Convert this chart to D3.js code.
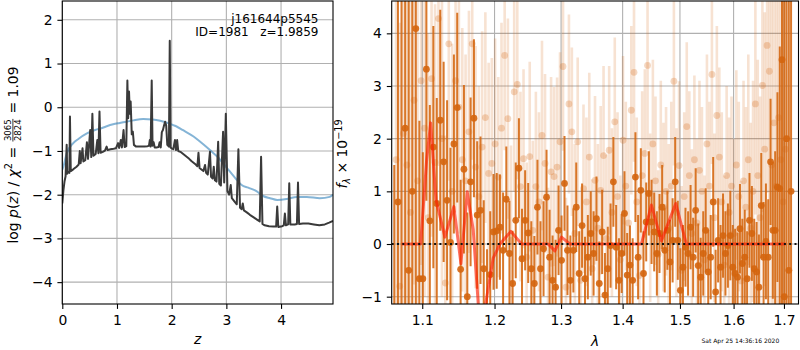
<!DOCTYPE html>
<html>
<head>
<meta charset="utf-8">
<script src="https://cdn.jsdelivr.net/npm/d3@7"></script>
<style>
  body { margin: 0; background: #fff; }
  svg { display: block; font-family: "DejaVu Sans", sans-serif; }
  text { fill: #000; }
</style>
</head>
<body>
<svg id="fig" width="800" height="350"></svg>
<script>
// ---------------- redshift fit: log p(z) ----------------
const pzZ = [
  0.00,0.02,0.04,0.06,0.08,0.09,0.11,0.13,0.14,0.155,
  0.20,0.26,0.30,0.32,0.335,0.37,0.385,0.42,0.45,0.47,
  0.51,0.53,0.55,0.57,0.61,0.64,0.66,0.68,0.70,0.74,
  0.78,0.81,0.83,0.88,0.94,0.98,1.02,1.04,1.07,1.09,
  1.12,1.14,1.17,1.19,1.205,1.22,1.235,1.25,1.27,1.29,
  1.31,1.35,1.42,1.50,1.56,1.585,1.60,1.615,1.635,1.65,
  1.67,1.69,1.72,1.76,1.78,1.80,1.82,1.84,1.86,1.88,
  1.90,1.92,1.95,1.965,1.98,2.00,2.03,2.06,2.08,2.10,
  2.12,2.16,2.20,2.24,2.28,2.32,2.36,2.40,2.44,2.47,
  2.49,2.51,2.55,2.58,2.61,2.63,2.66,2.70,2.72,2.75,
  2.77,2.79,2.82,2.85,2.87,2.90,2.94,2.96,2.99,3.02,
  3.05,3.08,3.10,3.15,3.19,3.22,3.25,3.28,3.30,3.32,
  3.38,3.43,3.50,3.56,3.61,3.635,3.66,3.70,3.78,3.86,
  3.91,3.93,3.95,4.02,4.05,4.07,4.09,4.13,4.15,4.17,
  4.25,4.29,4.31,4.33,4.40,4.50,4.60,4.70,4.80,4.88,
  4.95
];
const pzLog = [
  -2.20,-1.90,-1.70,-1.58,-0.86,-1.52,-1.48,-1.50,-0.21,-1.46,
  -1.42,-1.36,-1.31,-1.00,-1.28,-0.94,-1.24,-1.21,-0.80,-1.18,
  -0.52,-1.14,-0.15,-1.11,-1.07,-0.75,-1.05,-0.10,-1.04,-1.02,
  -0.99,-0.90,-0.98,-0.96,-0.95,-0.94,-0.82,-0.93,-0.75,-0.92,
  -0.52,-0.91,-0.89,0.61,-0.25,0.36,-0.15,0.13,-0.62,-0.56,
  -0.86,-0.90,-0.90,-0.90,-0.89,-0.88,-0.75,-0.90,0.61,-0.88,
  -0.80,-0.92,-0.92,-0.91,-0.80,-0.92,-0.57,-0.52,-0.42,-0.33,
  -0.42,-0.86,-0.90,1.52,-0.92,-0.94,-0.96,-0.75,-0.98,-0.75,
  -1.00,-1.02,-1.06,-1.10,-1.14,-1.18,-1.23,-1.27,-1.31,-1.35,
  -1.04,-1.39,-1.43,-1.46,-1.32,-1.50,-1.54,-1.02,-1.59,-1.63,
  -1.36,-1.67,-1.70,-0.79,-1.75,-1.79,-0.56,-1.72,-0.15,-1.92,
  -2.00,-1.78,-2.08,-2.16,-2.22,-0.96,-2.30,-2.33,-2.20,-2.36,
  -2.41,-2.46,-2.52,-2.57,-2.61,-1.13,-2.67,-2.70,-2.72,-2.73,
  -2.73,-2.27,-2.74,-2.72,-2.70,-2.43,-2.70,-2.68,-1.74,-2.68,
  -2.68,-2.67,-1.72,-2.67,-2.66,-2.66,-2.68,-2.70,-2.68,-2.64,
  -2.60
];
const priorZ = [0,0.02,0.08,0.2,0.3,0.45,0.6,0.69,0.8,0.93,1.05,1.18,1.3,1.48,1.65,1.79,1.9,2.03,2.09,2.2,
  2.4,2.55,2.7,2.85,2.94,3.05,3.19,3.28,3.4,3.55,3.67,3.8,3.93,4.1,4.29,4.47,4.71,4.89,4.95];
const priorLog = [-1.43,-1.36,-1.06,-0.82,-0.72,-0.60,-0.52,-0.49,-0.44,-0.39,-0.36,-0.33,-0.30,-0.27,-0.28,-0.31,-0.35,-0.41,-0.44,-0.52,
  -0.67,-0.82,-0.98,-1.15,-1.28,-1.45,-1.66,-1.78,-1.84,-1.92,-2.03,-2.08,-2.12,-2.10,-2.05,-2.05,-2.08,-2.05,-2.00];
const zTicks = [0, 1, 2, 3, 4];
const logpTicks = [-4, -3, -2, -1, 0, 1, 2];

// ---------------- 1D spectrum: G141 ----------------
const waveA = [
  1.0636,1.0683,1.0729,1.0776,1.0822,1.0869,1.0915,1.0962,1.1008,1.1055,
  1.1101,1.1148,1.1194,1.1241,1.1287,1.1334,1.1380,1.1427,1.1473,1.1520,
  1.1566,1.1613,1.1659,1.1706,1.1752,1.1799,1.1845,1.1892,1.1938,1.1985,
  1.2031,1.2078,1.2124,1.2171,1.2217,1.2264,1.2310,1.2357,1.2403,1.2450,
  1.2496,1.2543,1.2589,1.2636,1.2682,1.2729,1.2775,1.2822,1.2868,1.2915,
  1.2961,1.3008,1.3054,1.3101,1.3147,1.3194,1.3240,1.3287,1.3333,1.3380,
  1.3426,1.3473,1.3519,1.3566,1.3612,1.3659,1.3705,1.3752,1.3798,1.3845,
  1.3891,1.3938,1.3984,1.4031,1.4077,1.4124,1.4170,1.4217,1.4263,1.4310,
  1.4356,1.4403,1.4449,1.4496,1.4542,1.4589,1.4635,1.4682,1.4728,1.4775,
  1.4821,1.4868,1.4914,1.4961,1.5007,1.5054,1.5100,1.5147,1.5193,1.5240,
  1.5286,1.5333,1.5379,1.5426,1.5472,1.5519,1.5565,1.5612,1.5658,1.5705,
  1.5751,1.5798,1.5844,1.5891,1.5937,1.5984,1.6030,1.6077,1.6123,1.6170,
  1.6216,1.6263,1.6309,1.6356,1.6402,1.6449,1.6495,1.6542,1.6588,1.6635,
  1.6681,1.6728,1.6774,1.6821,1.6867,1.6914,1.6960,1.7007,1.7053,1.7100,
  1.7146
];
const fluxA = [
  -2.6,0.8,-1.2,2.2,-0.5,1.0,4.09,-0.66,-0.66,3.32,
  0.44,1.84,0.77,2.35,1.56,0.83,0.03,1.9,2.59,-0.48,
  1.42,-1.0,1.18,2.39,0.55,0.64,-0.47,-1.3,-0.58,0.23,
  0.25,0.32,-0.12,0.85,-0.18,-0.75,0.45,1.44,-0.28,0.45,
  0.21,-0.47,-0.75,0.70,-0.47,-0.09,0.89,-0.25,-0.69,-0.82,
  0.26,-0.31,1.15,-0.12,-0.69,-0.12,0.70,-0.56,0.35,-0.66,
  -0.25,0.20,-0.18,0.48,-0.75,0.23,-0.97,-0.47,-0.03,1.18,
  -0.06,-0.69,-0.18,0.58,-0.59,-0.40,-0.69,1.27,-0.25,1.02,
  -0.56,0.42,0.96,0.42,0.23,-0.18,0.20,0.70,-0.12,0.26,
  -0.34,0.07,1.18,0.07,-0.88,-0.44,-0.06,-0.18,0.32,-0.25,
  0.64,-0.41,-0.63,-0.18,0.26,-0.53,-0.25,0.80,-0.91,0.07,
  -0.44,0.16,-0.18,-0.03,0.16,-0.44,-0.56,-0.63,0.29,-0.37,
  -0.25,-0.66,0.45,0.20,-0.47,-0.53,-0.82,0.73,-0.25,0.05,
  -0.25,1.56,0.26,0.26,1.08,1.05,3.5,-1.0,2.0,-0.5,
  1.0
];
const errA = [
  4.1,6.5,7.0,6.5,7.0,6.5,5.5,3.0,2.4,2.5,
  2.2,2.3,2.0,2.1,1.9,1.9,1.8,1.7,1.8,1.7,
  1.6,1.6,1.6,1.5,1.4,1.4,1.3,1.2,1.2,1.1,
  1.1,1.0,1.1,1.0,1.0,1.0,1.1,0.95,0.95,0.95,
  0.95,0.9,0.9,0.9,0.9,0.9,0.9,0.9,0.85,0.9,
  0.85,0.85,0.9,0.85,0.85,0.8,0.85,0.8,0.8,0.8,
  0.8,0.8,0.8,0.8,0.8,0.8,0.8,0.8,0.8,0.85,
  0.8,0.8,0.75,0.8,0.8,0.75,0.8,0.85,0.8,0.8,
  0.8,0.75,0.8,0.8,0.75,0.8,0.75,0.8,0.8,0.75,
  0.8,0.8,0.85,0.75,0.8,0.8,0.75,0.8,0.8,0.75,
  0.8,0.8,0.75,0.8,0.8,0.8,0.8,0.85,0.8,0.8,
  0.8,0.8,0.8,0.8,0.85,0.8,0.85,0.85,0.85,0.85,
  0.9,0.9,0.9,0.9,0.95,0.95,1.0,1.0,1.05,1.1,
  1.1,1.2,1.3,1.5,1.8,2.7,6.0,6.5,7.0,7.0,
  7.0
];
const waveB = [
  1.0659,1.0706,1.0752,1.0799,1.0845,1.0892,1.0938,1.0985,1.1031,1.1078,
  1.1124,1.1171,1.1217,1.1264,1.1310,1.1357,1.1403,1.1450,1.1496,1.1543,
  1.1589,1.1636,1.1682,1.1729,1.1775,1.1822,1.1868,1.1915,1.1961,1.2008,
  1.2054,1.2101,1.2147,1.2194,1.2240,1.2287,1.2333,1.2380,1.2426,1.2473,
  1.2519,1.2566,1.2612,1.2659,1.2705,1.2752,1.2798,1.2845,1.2891,1.2938,
  1.2984,1.3031,1.3077,1.3124,1.3170,1.3217,1.3263,1.3310,1.3356,1.3403,
  1.3449,1.3496,1.3542,1.3589,1.3635,1.3682,1.3728,1.3775,1.3821,1.3868,
  1.3914,1.3961,1.4007,1.4054,1.4100,1.4147,1.4193,1.4240,1.4286,1.4333,
  1.4379,1.4426,1.4472,1.4519,1.4565,1.4612,1.4658,1.4705,1.4751,1.4798,
  1.4844,1.4891,1.4937,1.4984,1.5030,1.5077,1.5123,1.5170,1.5216,1.5263,
  1.5309,1.5356,1.5402,1.5449,1.5495,1.5542,1.5588,1.5635,1.5681,1.5728,
  1.5774,1.5821,1.5867,1.5914,1.5960,1.6007,1.6053,1.6100,1.6146,1.6193,
  1.6239,1.6286,1.6332,1.6379,1.6425,1.6472,1.6518,1.6565,1.6611,1.6658,
  1.6704,1.6751,1.6797,1.6844,1.6890,1.6937,1.6983,1.7030
];
const fluxB = [
  1.6,-0.8,2.1,1.5,0.6,2.73,1.2,3.1,2.2,0.5,
  3.14,1.55,4.28,2.0,-0.74,3.8,1.0,3.1,2.6,1.6,
  1.2,2.13,3.8,1.46,0.9,1.84,2.4,1.34,1.53,1.9,
  1.27,2.2,3.58,2.38,0.07,2.89,3.03,1.09,1.62,-0.25,
  1.66,0.26,1.09,0.8,2.06,1.53,-0.63,1.37,1.28,1.46,
  1.94,3.37,-0.82,2.66,2.13,0.2,1.94,-0.69,1.05,0.8,
  1.65,-0.47,1.21,0.3,1.02,1.68,0.1,1.78,0.6,2.32,
  0.9,-0.3,1.97,1.1,0.4,2.54,3.26,0.8,-0.6,1.3,
  1.72,3.39,0.5,1.9,1.2,-0.2,1.5,0.7,1.0,0.3,
  1.1,3.09,0.6,1.49,-0.5,0.9,2.23,1.3,0.2,1.6,
  0.4,1.4,1.0,-0.3,1.9,1.1,3.22,0.5,2.44,1.65,
  0.8,-0.4,1.3,0.6,1.1,0.2,1.5,0.9,-0.7,1.2,
  0.7,1.6,0.3,1.0,2.66,1.3,0.5,3.01,1.8,3.77,
  3.28,1.5,2.3,1.1,2.4,1.6,0.8,1.8
];
const errB = [
  4.5,5.0,4.5,4.0,4.0,3.5,4.0,3.5,3.2,3.5,
  3.0,3.0,2.8,3.0,2.8,2.6,2.8,2.5,2.4,2.5,
  2.4,2.3,2.2,2.3,2.1,2.2,2.0,2.1,2.0,2.0,
  1.9,2.0,1.8,1.9,1.8,1.9,1.8,1.8,1.7,1.8,
  1.8,1.7,1.8,1.7,1.8,1.7,1.7,1.8,1.7,1.7,
  1.7,1.6,1.7,1.7,1.6,1.7,1.6,1.7,1.6,1.6,
  1.6,1.7,1.6,1.6,1.6,1.7,1.6,1.6,1.6,1.6,
  1.6,1.6,1.6,1.6,1.6,1.6,1.7,1.6,1.6,1.6,
  1.6,1.6,1.6,1.6,1.6,1.6,1.6,1.6,1.6,1.6,
  1.6,1.6,1.6,1.6,1.6,1.6,1.6,1.6,1.6,1.6,
  1.6,1.7,1.6,1.6,1.7,1.6,1.7,1.6,1.7,1.7,
  1.7,1.7,1.7,1.8,1.7,1.8,1.8,1.8,1.9,1.9,
  1.9,2.0,2.0,2.1,2.1,2.2,2.3,2.4,2.6,2.8,
  3.0,3.5,4.0,6.0,7.0,7.0,7.0,7.0
];
// best-fit model
const modelWave = [1.0731,1.0979,1.1058,1.1112,1.1183,1.1304,1.1427,1.1524,1.1612,1.1696,1.1767,1.1820,1.1872,
  1.1980,1.2077,1.2238,1.2396,1.2800,1.2903,1.3007,1.3138,1.4320,1.4493,1.4669,1.4924,1.5116,1.7035];
const modelFlux = [0,0,1.59,2.30,0.84,0.13,0.71,-0.37,0.99,0.27,-1.14,-1.9,-1.14,
  -0.27,0.0,0.24,0.0,0.0,-0.13,0.13,0.0,0.0,0.74,0.06,0.77,0.0,0.0];
const waveTicks = [1.1, 1.2, 1.3, 1.4, 1.5, 1.6, 1.7];
const fluxTicks = [-1, 0, 1, 2, 3, 4];

// ---------------- layout ----------------
const svg = d3.select('#fig');
const FS = 13.9;
const GRID = '#b0b0b0';
const ORANGE = '#d4650e';

const lp = { left: 62.3, right: 333, top: 1, bottom: 304 };
const rp = { left: 391.7, right: 798.5, top: 1, bottom: 304 };

const xZ = d3.scaleLinear().domain([0, 4.95]).range([lp.left, lp.right]);
const yP = d3.scaleLinear().domain([-4.5, 2.43]).range([lp.bottom, lp.top]);
const xW = d3.scaleLog().domain([1.0603, 1.730]).range([rp.left, rp.right]);
const yF = d3.scaleLinear().domain([-1.139, 4.614]).range([rp.bottom, rp.top]);

const defs = svg.append('defs');
defs.append('clipPath').attr('id', 'clipL').append('rect')
  .attr('x', lp.left).attr('y', lp.top).attr('width', lp.right - lp.left).attr('height', lp.bottom - lp.top);
defs.append('clipPath').attr('id', 'clipR').append('rect')
  .attr('x', rp.left).attr('y', rp.top).attr('width', rp.right - rp.left).attr('height', rp.bottom - rp.top);

function grid(p, xs, xt, ys, yt) {
  const g = svg.append('g').attr('stroke', GRID).attr('stroke-width', 1.1);
  xt.forEach(v => g.append('line').attr('x1', xs(v)).attr('x2', xs(v)).attr('y1', p.top).attr('y2', p.bottom));
  yt.forEach(v => g.append('line').attr('x1', p.left).attr('x2', p.right).attr('y1', ys(v)).attr('y2', ys(v)));
}

function axes(p, xs, xt, xf, ys, yt, yf) {
  const ax = svg.append('g').attr('transform', `translate(0,${p.bottom})`)
    .call(d3.axisBottom(xs).tickValues(xt).tickFormat(xf).tickSize(4.9).tickPadding(4.9));
  const ay = svg.append('g').attr('transform', `translate(${p.left},0)`)
    .call(d3.axisLeft(ys).tickValues(yt).tickFormat(yf).tickSize(4.9).tickPadding(4.9));
  [ax, ay].forEach(a => {
    a.attr('font-size', null).attr('font-family', null);
    a.select('.domain').remove();
    a.selectAll('.tick line').attr('stroke', '#000').attr('stroke-width', 1.1);
    a.selectAll('.tick text').attr('font-size', FS).attr('fill', '#000');
  });
  ax.selectAll('.tick text').attr('dy', null).attr('y', 21);
  svg.append('rect').attr('x', p.left).attr('y', p.top)
    .attr('width', p.right - p.left).attr('height', p.bottom - p.top)
    .attr('fill', 'none').attr('stroke', '#000').attr('stroke-width', 1.1);
}

// rotated label built from roman / italic / script pieces
function mathLabel(cx, cy, pieces) {
  const g = svg.append('g').attr('transform', `translate(${cx},${cy}) rotate(-90)`);
  const inner = g.append('g');
  let x = 0;
  pieces.forEach(p => {
    if (p.frac) {
      const a = inner.append('text').attr('font-size', p.fs).attr('text-anchor', 'middle').text(p.frac[0]);
      const b = inner.append('text').attr('font-size', p.fs).attr('text-anchor', 'middle').text(p.frac[1]);
      const w = Math.max(a.node().getComputedTextLength(), b.node().getComputedTextLength());
      const mid = x + 1.5 + w / 2;
      a.attr('x', mid).attr('y', p.num);
      b.attr('x', mid).attr('y', p.den);
      inner.append('line').attr('x1', x + 1).attr('x2', x + w + 2)
        .attr('y1', p.bar).attr('y2', p.bar).attr('stroke', '#000').attr('stroke-width', 0.8);
      x += w + 3;
    } else {
      const t = inner.append('text').attr('x', x).attr('y', p.dy || 0)
        .attr('font-size', p.fs || FS).style('white-space', 'pre').text(p.t);
      if (p.it) t.attr('font-style', 'italic');
      x += t.node().getComputedTextLength();
    }
  });
  inner.attr('transform', `translate(${-x / 2},0)`);
}

// ---------------- left panel ----------------
grid(lp, xZ, zTicks, yP, logpTicks);
const gL = svg.append('g').attr('clip-path', 'url(#clipL)');
gL.append('path')
  .datum(priorZ.map((z, i) => [z, priorLog[i]]))
  .attr('d', d3.line().x(d => xZ(d[0])).y(d => yP(d[1])).curve(d3.curveMonotoneX))
  .attr('fill', 'none').attr('stroke', '#1f77b4').attr('stroke-opacity', 0.55).attr('stroke-width', 2);
gL.append('path')
  .datum(pzZ.map((z, i) => [z, pzLog[i]]))
  .attr('d', d3.line().x(d => xZ(d[0])).y(d => yP(d[1])))
  .attr('fill', 'none').attr('stroke', '#3a3a3a').attr('stroke-width', 2)
  .attr('stroke-linejoin', 'round');
axes(lp, xZ, zTicks, d3.format('d'), yP, logpTicks, d3.format('d'));

svg.append('text').attr('x', 318.5).attr('y', 23).attr('text-anchor', 'end')
  .attr('font-size', 12).text('j161644p5545');
svg.append('text').attr('x', 318.5).attr('y', 36).attr('text-anchor', 'end')
  .attr('font-size', 12).style('white-space', 'pre').text('ID=1981   z=1.9859');

svg.append('text').attr('x', (lp.left + lp.right) / 2).attr('y', 344).attr('text-anchor', 'middle')
  .attr('font-size', FS).attr('font-style', 'italic').text('z');
mathLabel(17.5, 155, [
  { t: 'log ' }, { t: 'p', it: 1 }, { t: '(' }, { t: 'z', it: 1 }, { t: ')' }, { t: ' / ' },
  { t: 'χ', it: 1 }, { t: '2', fs: 9.7, dy: -5.5 }, { t: ' = ' },
  { frac: ['3065', '2824'], fs: 8.5, num: -6.2, den: 3.8, bar: -4.6 },
  { t: ' = 1.09' }
]);

// ---------------- right panel ----------------
grid(rp, xW, waveTicks, yF, fluxTicks);
const gR = svg.append('g').attr('clip-path', 'url(#clipR)');
const specB = waveB.map((w, i) => ({ w, f: fluxB[i], e: errB[i] }));
const specA = waveA.map((w, i) => ({ w, f: fluxA[i], e: errA[i] }));

gR.append('g').selectAll('line').data(specB).join('line')
  .attr('x1', d => xW(d.w)).attr('x2', d => xW(d.w))
  .attr('y1', d => yF(d.f - d.e)).attr('y2', d => yF(d.f + d.e))
  .attr('stroke', ORANGE).attr('stroke-opacity', 0.19).attr('stroke-width', 2.6);
gR.append('g').selectAll('circle').data(specB).join('circle')
  .attr('cx', d => xW(d.w)).attr('cy', d => yF(d.f)).attr('r', 3.4)
  .attr('fill', ORANGE).attr('fill-opacity', 0.26);

gR.append('g').selectAll('line').data(specA).join('line')
  .attr('x1', d => xW(d.w)).attr('x2', d => xW(d.w))
  .attr('y1', d => yF(d.f - d.e)).attr('y2', d => yF(d.f + d.e))
  .attr('stroke', ORANGE).attr('stroke-opacity', 0.88).attr('stroke-width', 2.0);
gR.append('g').selectAll('circle').data(specA).join('circle')
  .attr('cx', d => xW(d.w)).attr('cy', d => yF(d.f)).attr('r', 3.4)
  .attr('fill', ORANGE).attr('fill-opacity', 0.9);

gR.append('path')
  .datum(modelWave.map((w, i) => [w, modelFlux[i]]))
  .attr('d', d3.line().x(d => xW(d[0])).y(d => yF(d[1])))
  .attr('fill', 'none').attr('stroke', '#ff1a00').attr('stroke-opacity', 0.62)
  .attr('stroke-width', 3).attr('stroke-linejoin', 'round');

gR.append('line').attr('x1', rp.left).attr('x2', rp.right).attr('y1', yF(0)).attr('y2', yF(0))
  .attr('stroke', '#111').attr('stroke-width', 2).attr('stroke-dasharray', '2,3.3');

axes(rp, xW, waveTicks, d3.format('.1f'), yF, fluxTicks, d3.format('d'));

svg.append('text').attr('x', (rp.left + rp.right) / 2).attr('y', 345.5).attr('text-anchor', 'middle')
  .attr('font-size', FS).attr('font-style', 'italic').text('λ');
mathLabel(347, 154, [
  { t: 'f', it: 1 }, { t: 'λ', it: 1, fs: 9.7, dy: 3 }, { t: ' × 10' }, { t: '−19', fs: 9.7, dy: -5.5 }
]);

svg.append('text').attr('x', 701.5).attr('y', 343).attr('font-size', 6)
  .text('Sat Apr 25 14:36:16 2020');
</script>
</body>
</html>
